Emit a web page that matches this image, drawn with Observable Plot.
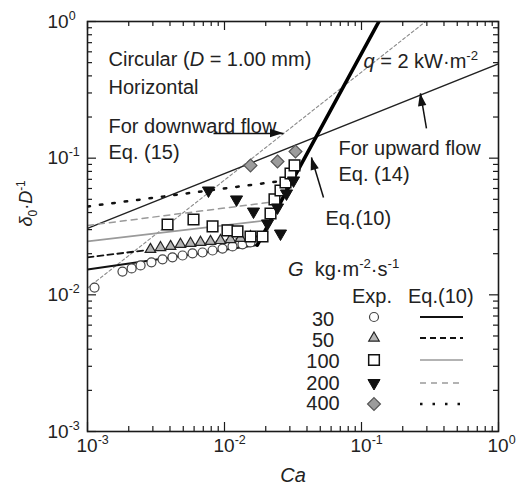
<!DOCTYPE html>
<html><head><meta charset="utf-8">
<script src="https://cdn.jsdelivr.net/npm/d3@7"></script>
<script src="https://cdn.jsdelivr.net/npm/@observablehq/plot@0.6"></script>
<style>
html,body{margin:0;padding:0;background:#fff;}
#chart{position:relative;width:526px;height:495px;}
</style></head><body><div id="chart"></div>
<script>
// ---------------- data ----------------
const gLevels = [30, 50, 100, 200, 400];
// Eq.(10): value at Ca = 1e-3 and the knee where each curve joins the steep branch
const eq10CaLeft = [0.001, 0.001, 0.001, 0.001, 0.001];
const eq10YLeft = [0.01534, 0.01878, 0.0246, 0.0322, 0.0443];
const eq10CaKnee = [0.01734, 0.01884, 0.02203, 0.02594, 0.0313];
const eq10YKnee = [0.02313, 0.02706, 0.0354, 0.0487, 0.0698];
// common steep branch of Eq.(10)
const steepCa = [0.01734, 0.134];
const steepY = [0.02313, 1.0];
// Eq.(14) upward flow, Eq.(15) downward flow
const eq14Ca = [0.001, 1.0];
const eq14Y = [0.0306, 0.49];
const eq15Ca = [0.001, 0.294];
const eq15Y = [0.0112, 1.0];
// experiments
const exp30Ca = [0.001125, 0.0018, 0.0021, 0.00244, 0.00293, 0.00353, 0.00417, 0.00494, 0.00584, 0.00691, 0.00818, 0.00967, 0.01144, 0.01353, 0.01548];
const exp30Y  = [0.0113, 0.0148, 0.0156, 0.0164, 0.0173, 0.0182, 0.0188, 0.0194, 0.0201, 0.0204, 0.0211, 0.0218, 0.0226, 0.0234, 0.0242];
const exp50Ca = [0.00288, 0.00341, 0.00404, 0.00477, 0.00565, 0.00668, 0.0079, 0.00935, 0.01106, 0.01309, 0.01548];
const exp50Y  = [0.0215, 0.0222, 0.0226, 0.0234, 0.0238, 0.0242, 0.0246, 0.0250, 0.0254, 0.0259, 0.0267];
const exp100Ca = [0.00384, 0.00594, 0.00818, 0.01052, 0.01244, 0.01548, 0.01894, 0.02167, 0.02317, 0.02563, 0.02788, 0.03033, 0.03245];
const exp100Y  = [0.0327, 0.0356, 0.0317, 0.0296, 0.0291, 0.0267, 0.0267, 0.0394, 0.0499, 0.0580, 0.0664, 0.0773, 0.0885];
const exp200Ca = [0.00764, 0.01224, 0.01628, 0.0206, 0.02563, 0.02437, 0.02835, 0.0319];
const exp200Y  = [0.0580, 0.0499, 0.0407, 0.0333, 0.0281, 0.0436, 0.0552, 0.0687];
const exp400Ca = [0.01548, 0.02437, 0.03298];
const exp400Y  = [0.0885, 0.0946, 0.1119];
// axis ticks
const majorTicks = [0.001, 0.01, 0.1, 1];
const tickLabels = ["10^{-3}", "10^{-2}", "10^{-1}", "10^{0}"];
const minorTicks = [0.002,0.003,0.004,0.005,0.006,0.007,0.008,0.009,0.02,0.03,0.04,0.05,0.06,0.07,0.08,0.09,0.2,0.3,0.4,0.5,0.6,0.7,0.8,0.9];
// annotation arrows (data coordinates: tail -> head)
const arrowCa1 = [0.00831, 0.298, 0.0528];
const arrowY1  = [0.1516, 0.165, 0.0516];
const arrowCa2 = [0.02696, 0.2696, 0.04315];
const arrowY2  = [0.1516, 0.2974, 0.1012];

// ---------------- styles ----------------
const W = 526, H = 495, mL = 87, mR = 28, mT = 21, mB = 64;
const fw = W - mL - mR, fh = H - mT - mB;
const FONT = "'Liberation Sans', Arial, Helvetica, sans-serif";
const lineStroke = ["#111", "#111", "#9a9a9a", "#9a9a9a", "#111"];
const lineDash = [null, "6,4", null, "6,5", "2.5,10"];
const lineWidth = [2, 1.8, 1.6, 1.5, 2.5];
const triangleDown = {draw(ctx, size) {
  const y = Math.sqrt(size / (Math.sqrt(3) * 3));
  ctx.moveTo(0, y * 2); ctx.lineTo(Math.sqrt(3) * y, -y); ctx.lineTo(-Math.sqrt(3) * y, -y); ctx.closePath();
}};
const symStyle = [
  {symbol: "circle", r: 4.5, fill: "white", stroke: "#444", strokeWidth: 1.2},
  {symbol: "triangle", r: 3.9, fill: "#b5b5b5", stroke: "#222", strokeWidth: 1.2},
  {symbol: "square", r: 6, fill: "white", stroke: "#111", strokeWidth: 1.5},
  {symbol: triangleDown, r: 4.5, fill: "#111", stroke: "#111", strokeWidth: 1},
  {symbol: "diamond2", r: 5.8, fill: "#9c9c9c", stroke: "#555", strokeWidth: 1.2}
];
const d3Sym = [d3.symbolCircle, d3.symbolTriangle, d3.symbolSquare, triangleDown, d3.symbolDiamond2];

const pts = (xs, ys) => xs.map((x, i) => ({x, y: ys[i]}));
const expCa = [exp30Ca, exp50Ca, exp100Ca, exp200Ca, exp400Ca];
const expY = [exp30Y, exp50Y, exp100Y, exp200Y, exp400Y];

const marks = [];
// ticks inward on all sides
const tk = {stroke: "#1a1a1a", strokeWidth: 1.2};
marks.push(Plot.ruleX(majorTicks, {x: d => d, insetTop: fh - 9, ...tk}));
marks.push(Plot.ruleX(minorTicks, {x: d => d, insetTop: fh - 5, ...tk}));
marks.push(Plot.ruleX(majorTicks, {x: d => d, insetBottom: fh - 9, ...tk}));
marks.push(Plot.ruleX(minorTicks, {x: d => d, insetBottom: fh - 5, ...tk}));
marks.push(Plot.ruleY(majorTicks, {y: d => d, insetRight: fw - 9, ...tk}));
marks.push(Plot.ruleY(minorTicks, {y: d => d, insetRight: fw - 5, ...tk}));
marks.push(Plot.ruleY(majorTicks, {y: d => d, insetLeft: fw - 9, ...tk}));
marks.push(Plot.ruleY(minorTicks, {y: d => d, insetLeft: fw - 5, ...tk}));

// correlation lines
marks.push(Plot.line(pts(eq15Ca, eq15Y), {x: "x", y: "y", stroke: "#8a8a8a", strokeWidth: 1.1, strokeDasharray: "3,2.5", clip: true}));
marks.push(Plot.line(pts(eq14Ca, eq14Y), {x: "x", y: "y", stroke: "#222", strokeWidth: 1.3, clip: true}));
gLevels.forEach((g, i) => {
  marks.push(Plot.line(pts([eq10CaLeft[i], eq10CaKnee[i]], [eq10YLeft[i], eq10YKnee[i]]),
    {x: "x", y: "y", stroke: lineStroke[i], strokeWidth: lineWidth[i], strokeDasharray: lineDash[i], clip: true}));
});
marks.push(Plot.line(pts(steepCa, steepY), {x: "x", y: "y", stroke: "#000", strokeWidth: 3.6, clip: true}));

// experimental points
gLevels.forEach((g, i) => {
  marks.push(Plot.dot(pts(expCa[i], expY[i]), {x: "x", y: "y", ...symStyle[i]}));
});

// arrow shafts
const arrows = arrowCa1.map((c, i) => ({x1: c, y1: arrowY1[i], x2: arrowCa2[i], y2: arrowY2[i]}));
marks.push(Plot.link(arrows, {x1: "x1", y1: "y1", x2: "x2", y2: "y2", stroke: "#111", strokeWidth: 1.5}));

// tick labels
marks.push(Plot.text(majorTicks, {x: d => d, text: (d, i) => tickLabels[i], frameAnchor: "bottom", dy: 20, dx: -11, textAnchor: "start", fontSize: 19, fill: "#222"}));
marks.push(Plot.text(majorTicks, {y: d => d, text: (d, i) => tickLabels[i], frameAnchor: "left", dx: -40, textAnchor: "start", fontSize: 19, fill: "#222"}));
// axis titles
marks.push(Plot.text(["*Ca*"], {frameAnchor: "bottom", dy: 50, fontSize: 20, fill: "#222"}));
marks.push(Plot.text(["*δ*_{0}·*D*^{-1}"], {frameAnchor: "left", dx: -61, rotate: -90, fontSize: 18, fill: "#222"}));

// annotation texts (offsets from the frame's top-left corner)
const annText = ["Circular (*D* = 1.00 mm)", "Horizontal", "For downward flow", "Eq. (15)", "*q* = 2 kW·m^{-2}", "For upward flow", "Eq. (14)", "Eq.(10)"];
const annDx = [21, 21, 21, 21, 276, 251, 251, 238];
const annDy = [30.5, 58.5, 97.5, 123, 32.5, 119.5, 145.5, 189.5];
annText.forEach((t, i) => marks.push(Plot.text([t], {frameAnchor: "top-left", dx: annDx[i], dy: annDy[i], textAnchor: "start", fontSize: 20, fill: "#222"})));

const chart = Plot.plot({
  width: W, height: H, marginLeft: mL, marginRight: mR, marginTop: mT, marginBottom: mB,
  x: {type: "log", domain: [0.001, 1], axis: null},
  y: {type: "log", domain: [0.001, 1], axis: null},
  style: {fontFamily: FONT, background: "white", overflow: "visible"},
  marks: [...marks, Plot.frame({stroke: "#1a1a1a", strokeWidth: 1.6})]
});
document.getElementById("chart").append(chart);

const svg = d3.select(chart);

// filled arrowheads, positioned with the plot's own scales
function scaleFn(name) {
  const s = chart.scale(name);
  if (s && typeof s.apply === "function") return v => s.apply(v);
  const f = d3.scaleLog().domain(s.domain).range(s.range);
  return v => f(v);
}
const sx = scaleFn("x"), sy = scaleFn("y");
const ah = svg.append("g").attr("fill", "#111");
arrows.forEach(a => {
  const x1 = sx(a.x1), y1 = sy(a.y1), x2 = sx(a.x2), y2 = sy(a.y2);
  const L = Math.hypot(x2 - x1, y2 - y1), ux = (x2 - x1) / L, uy = (y2 - y1) / L;
  const hl = 13, hw = 4.2;
  const bx = x2 - hl * ux, by = y2 - hl * uy;
  ah.append("path").attr("d", `M${x2},${y2}L${bx - hw * uy},${by + hw * ux}L${bx + hw * uy},${by - hw * ux}Z`);
});

// ---------------- legend (inside frame, lower right) ----------------
const lg = svg.append("g").attr("font-family", FONT).attr("fill", "#222").attr("text-anchor", "start");
lg.append("text").attr("x", 288).attr("y", 276).attr("font-size", 20).text("*G*  kg·m^{-2}·s^{-1}");
lg.append("text").attr("x", 352).attr("y", 303).attr("font-size", 20).text("Exp.");
lg.append("text").attr("x", 408).attr("y", 303).attr("font-size", 20).text("Eq.(10)");
const legBase = [326, 347, 368, 390, 410];
const legSymY = [317, 338, 360, 383, 404];
gLevels.forEach((g, i) => {
  lg.append("text").attr("x", 323).attr("y", legBase[i]).attr("text-anchor", "middle").attr("font-size", 20).text(String(g));
  const s = symStyle[i];
  lg.append("path").attr("transform", `translate(374,${legSymY[i]})`)
    .attr("d", d3.symbol(d3Sym[i], Math.PI * s.r * s.r)())
    .attr("fill", s.fill).attr("stroke", s.stroke).attr("stroke-width", s.strokeWidth);
  lg.append("line").attr("x1", 420).attr("x2", 463).attr("y1", legSymY[i]).attr("y2", legSymY[i])
    .attr("stroke", lineStroke[i]).attr("stroke-width", lineWidth[i])
    .attr("stroke-dasharray", lineDash[i]);
});

// rich text: *italic*, ^{sup}, _{sub}
function parseMarkup(s) {
  const segs = []; let cur = "", italic = false, i = 0;
  while (i < s.length) {
    const c = s[i];
    if ((c === "^" || c === "_") && s[i + 1] === "{") {
      if (cur) segs.push({t: cur, italic, shift: 0}); cur = "";
      const j = s.indexOf("}", i);
      segs.push({t: s.slice(i + 2, j), italic: false, shift: c === "^" ? 1 : -1});
      i = j + 1; continue;
    }
    if (c === "*") { if (cur) segs.push({t: cur, italic, shift: 0}); cur = ""; italic = !italic; i++; continue; }
    cur += c; i++;
  }
  if (cur) segs.push({t: cur, italic, shift: 0});
  return segs;
}
svg.selectAll("text").each(function () {
  const s = this.textContent;
  if (!/[\^_*]/.test(s)) return;
  const fs = parseFloat(getComputedStyle(this).fontSize) || 16;
  const segs = parseMarkup(s);
  this.textContent = "";
  let off = 0;
  for (const g of segs) {
    const want = g.shift > 0 ? -0.42 * fs : g.shift < 0 ? 0.25 * fs : 0;
    const ts = document.createElementNS("http://www.w3.org/2000/svg", "tspan");
    ts.textContent = g.t;
    if (want !== off) ts.setAttribute("dy", want - off);
    off = want;
    if (g.shift) ts.setAttribute("font-size", (0.66 * fs).toFixed(1));
    if (g.italic) ts.setAttribute("font-style", "italic");
    this.appendChild(ts);
  }
});
</script></body></html>
